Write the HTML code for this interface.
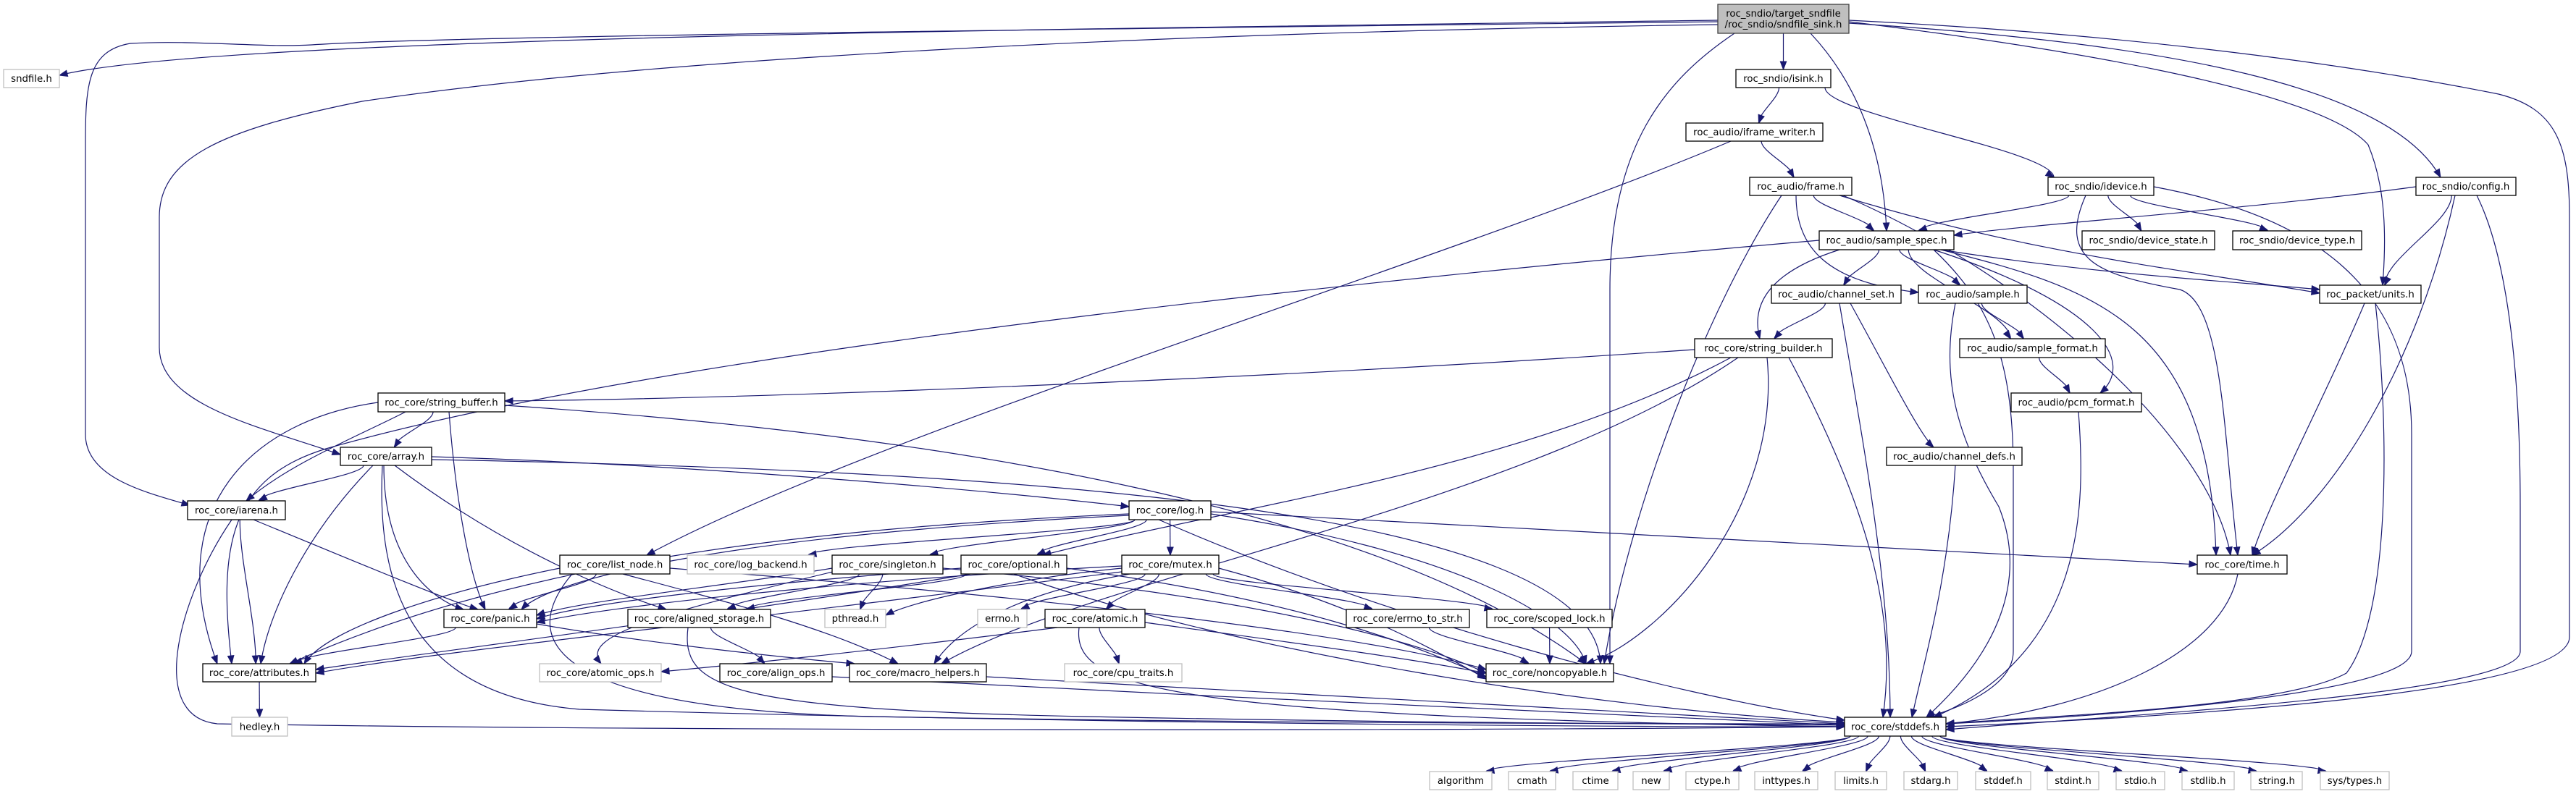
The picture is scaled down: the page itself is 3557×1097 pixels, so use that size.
<!DOCTYPE html>
<html><head><meta charset="utf-8"><style>
html,body{margin:0;padding:0;background:#fff;}
#c{position:relative;width:3557px;height:1097px;overflow:hidden;}
svg{position:absolute;left:0;top:0;}
</style></head><body><div id="c">
<svg id="s" width="3557" height="1097" xmlns="http://www.w3.org/2000/svg" font-family="'DejaVu Sans','Liberation Sans',sans-serif" font-size="13.3"></svg>
</div>
<script>
var N={
main:[2372,6,2553,46,'roc_sndio/target_sndfile|/roc_sndio/sndfile_sink.h',2],
sndfile:[5,96,82,121,'sndfile.h',1],
isink:[2397,96,2528,121,'roc_sndio/isink.h'],
iframe:[2328,170,2517,195,'roc_audio/iframe_writer.h'],
frame:[2416,245,2557,270,'roc_audio/frame.h'],
idevice:[2828,245,2974,270,'roc_sndio/idevice.h'],
config:[3336,245,3474,270,'roc_sndio/config.h'],
sspec:[2512,319,2698,345,'roc_audio/sample_spec.h'],
dstate:[2875,319,3058,345,'roc_sndio/device_state.h'],
dtype:[3083,319,3261,345,'roc_sndio/device_type.h'],
chset:[2446,394,2625,419,'roc_audio/channel_set.h'],
sample:[2649,394,2799,419,'roc_audio/sample.h'],
units:[3203,394,3343,419,'roc_packet/units.h'],
sbuild:[2340,468,2530,494,'roc_core/string_builder.h'],
sfmt:[2706,468,2907,494,'roc_audio/sample_format.h'],
sbuf:[522,543,697,569,'roc_core/string_buffer.h'],
pcm:[2777,543,2957,569,'roc_audio/pcm_format.h'],
array:[470,618,596,643,'roc_core/array.h'],
chdefs:[2605,618,2792,643,'roc_audio/channel_defs.h'],
iarena:[259,692,394,718,'roc_core/iarena.h'],
log:[1559,692,1672,718,'roc_core/log.h'],
lnode:[773,767,925,793,'roc_core/list_node.h'],
logb:[949,767,1124,793,'roc_core/log_backend.h',1],
single:[1149,767,1302,793,'roc_core/singleton.h'],
opt:[1327,767,1473,793,'roc_core/optional.h'],
mutex:[1549,767,1683,793,'roc_core/mutex.h'],
time:[3034,767,3158,793,'roc_core/time.h'],
panic:[613,842,741,867,'roc_core/panic.h'],
alst:[867,842,1064,867,'roc_core/aligned_storage.h'],
pthread:[1139,842,1223,867,'pthread.h',1],
errno:[1350,842,1418,867,'errno.h',1],
atomic:[1443,842,1581,867,'roc_core/atomic.h'],
e2s:[1859,842,2029,867,'roc_core/errno_to_str.h'],
slock:[2053,842,2226,867,'roc_core/scoped_lock.h'],
attr:[280,917,436,942,'roc_core/attributes.h'],
aops:[745,917,913,942,'roc_core/atomic_ops.h',1],
alops:[994,917,1149,942,'roc_core/align_ops.h'],
macro:[1173,917,1362,942,'roc_core/macro_helpers.h'],
cpu:[1470,917,1632,942,'roc_core/cpu_traits.h',1],
nonc:[2052,917,2228,942,'roc_core/noncopyable.h'],
hedley:[320,991,397,1017,'hedley.h',1],
stddefs:[2547,991,2687,1017,'roc_core/stddefs.h']
};
var leaves=[['algorithm',1974,2060],['cmath',2083,2148],['ctime',2172,2234],['new',2255,2305],['ctype.h',2328,2401],['inttypes.h',2423,2510],['limits.h',2534,2605],['stdarg.h',2629,2703],['stddef.h',2728,2804],['stdint.h',2827,2898],['stdio.h',2922,2989],['stdlib.h',3013,3085],['string.h',3108,3179],['sys/types.h',3204,3299]];
leaves.forEach(function(l,i){N['L'+i]=[l[1],1066,l[2],1091,l[0],1];});
var E=[
['main','sndfile','M2372,28 C1500,40 300,50 82,104'],
['main','iarena','M2372,30 C1500,40 600,50 430,62 C360,66 270,55 180,60 C120,70 118,120 118,200 L118,600 C118,660 200,680 262,698'],
['main','array','M2372,34 C1600,45 900,80 500,140 C300,180 220,220 220,300 L220,480 C220,560 360,590 470,628'],
['main','isink'],['main','sspec','M2500,46 C2560,110 2600,200 2605,319'],
['main','nonc','M2395,46 C2300,110 2223,200 2223,400 L2223,917'],
['main','units','M2553,30 C2800,60 3200,120 3270,200 C3295,260 3295,330 3290,394'],
['main','config','M2553,32 C3000,60 3300,120 3370,245'],
['main','stddefs','M2553,28 C3000,50 3300,100 3450,130 C3530,150 3548,200 3548,300 L3548,880 C3548,960 3000,990 2687,1004'],
['isink','iframe'],['isink','idevice'],
['iframe','frame'],['iframe','lnode','M2390,195 C2000,360 1200,600 893,767'],
['frame','sspec'],['frame','sample','M2480,270 C2480,340 2520,390 2649,404'],
['frame','units','M2540,270 C2800,350 3000,370 3203,405'],['frame','time','M2545,270 C2800,380 3050,600 3080,767'],
['frame','nonc','M2460,270 C2360,420 2250,700 2215,917'],
['idevice','sspec'],['idevice','dstate'],['idevice','dtype'],
['idevice','time','M2880,270 C2840,360 2900,380 3010,400 C3070,420 3070,600 3090,767'],
['idevice','stddefs','M2974,258 C3200,300 3330,400 3330,600 L3330,900 C3330,960 2900,990 2687,1000'],
['config','sspec','M3336,258 C3100,290 2800,310 2698,325'],['config','units'],
['config','time','M3390,270 C3340,500 3220,700 3110,767'],
['config','stddefs','M3420,270 C3460,350 3480,500 3480,700 L3480,900 C3480,960 2900,990 2687,1008'],
['sspec','chset'],['sspec','sample'],['sspec','sfmt'],
['sspec','pcm','M2670,345 C2900,420 2950,500 2900,543'],
['sspec','sbuild','M2540,345 C2430,380 2420,430 2430,468'],
['sspec','units','M2680,345 C2900,380 3100,390 3203,400'],
['sspec','time','M2680,345 C2900,400 3050,450 3060,767'],
['sspec','stddefs','M2670,345 C2750,420 2780,500 2780,650 L2780,900 C2780,950 2700,980 2660,991'],
['sspec','attr','M2512,332 C1500,420 800,520 450,620 C320,660 300,750 320,917'],
['chset','sbuild'],['chset','chdefs','M2555,419 C2600,500 2650,600 2670,618'],
['chset','stddefs','M2540,419 C2570,600 2610,800 2610,991'],
['sample','sfmt'],['sample','stddefs','M2700,419 C2680,520 2700,600 2760,700 C2800,800 2760,900 2660,991'],
['sfmt','pcm'],['pcm','stddefs','M2870,569 C2880,700 2880,900 2670,991'],
['chdefs','stddefs','M2700,643 C2690,800 2660,900 2640,991'],
['units','time','M3265,419 C3210,550 3130,700 3110,767'],['units','stddefs','M3280,419 C3300,600 3300,850 3240,930 C3150,980 2800,990 2687,1000'],
['time','stddefs','M3090,793 C3070,900 2900,980 2687,1000'],
['sbuild','sbuf','M2340,483 C1800,520 1100,550 697,554'],
['sbuild','opt','M2390,494 C2100,650 1700,700 1440,767'],
['sbuild','macro','M2400,494 C2100,700 1500,800 1300,917'],
['sbuild','nonc','M2440,494 C2460,700 2300,880 2190,917'],
['sbuild','stddefs','M2470,494 C2580,700 2620,850 2600,991'],
['sbuf','array'],['sbuf','iarena','M560,569 C500,600 400,640 340,692'],
['sbuf','attr','M522,556 C350,580 220,700 300,917'],['sbuf','panic','M620,569 C630,700 650,800 670,842'],
['sbuf','nonc','M697,560 C1300,600 1900,700 2190,917'],
['array','iarena'],['array','attr','M515,643 C420,740 370,850 360,917'],
['array','panic','M530,643 C530,780 600,830 640,842'],['array','log','M596,631 C900,640 1300,670 1559,700'],
['array','alst','M545,643 C700,760 850,820 920,842'],
['array','nonc','M596,635 C1400,650 2200,700 2210,917'],
['array','stddefs','M528,643 C520,800 560,960 800,980 C1500,1000 2300,1005 2547,1004'],
['iarena','attr'],['iarena','panic','M350,718 C500,780 620,830 660,842'],
['iarena','stddefs','M320,718 C250,820 200,990 300,1000 C900,1010 2000,1010 2547,1004'],
['log','logb'],['log','single'],['log','mutex'],['log','time','M1672,707 C2300,740 2900,770 3034,780'],
['log','attr','M1559,710 C1100,730 700,780 400,917'],['log','panic','M1559,712 C1000,740 760,800 720,842'],
['log','nonc','M1672,710 C2000,760 2170,850 2190,917'],
['log','opt'],['log','stddefs','M1600,718 C1900,850 2300,960 2547,995'],
['lnode','panic'],['lnode','macro','M860,793 C1000,830 1150,870 1240,917'],
['lnode','nonc','M925,785 C1500,830 1900,880 2052,925'],
['lnode','stddefs','M790,793 C700,900 800,980 1200,990 C1800,1000 2300,1000 2547,1000'],
['lnode','attr','M773,785 C600,820 450,870 420,917'],
['single','pthread'],['single','alst'],['single','panic','M1149,785 C1000,810 800,830 741,850'],
['single','nonc','M1302,785 C1700,820 1950,880 2052,930'],['single','aops','M1150,790 C900,850 800,880 830,917'],
['opt','alst'],['opt','panic','M1327,785 C1000,810 800,835 741,855'],['opt','attr','M1340,793 C1000,850 600,900 436,925'],
['opt','nonc','M1473,785 C1800,830 1950,890 2052,935'],['opt','stddefs','M1400,793 C1700,900 2200,980 2547,998'],
['mutex','atomic'],['mutex','errno'],['mutex','e2s'],['mutex','slock'],['mutex','pthread','M1549,785 C1400,800 1260,830 1223,850'],
['mutex','panic','M1549,782 C1200,800 850,835 741,860'],['mutex','nonc','M1683,785 C1850,830 1950,880 2052,938'],
['mutex','macro','M1560,793 C1400,820 1320,870 1290,917'],['mutex','attr','M1549,790 C1000,860 600,900 436,930'],
['atomic','cpu'],['atomic','aops','M1460,867 C1200,900 1000,920 913,928'],
['atomic','nonc','M1581,860 C1800,890 1950,910 2052,930'],['atomic','stddefs','M1490,867 C1480,950 1600,990 2547,1004'],
['e2s','nonc'],['slock','nonc'],
['panic','attr'],['panic','macro','M741,862 C900,890 1100,910 1180,917'],
['alst','alops'],['alst','stddefs','M950,867 C940,950 1000,980 1500,990 C2000,1000 2400,1000 2547,1002'],
['alops','stddefs','M1149,935 C1600,960 2300,990 2547,1002'],
['macro','stddefs','M1362,935 C1800,960 2300,985 2547,1000'],
['attr','hedley']
];
for(var i=0;i<14;i++)E.push(['stddefs','L'+i]);
var s=document.getElementById('s'),h='';
function esc(t){return t.replace(/&/g,'&amp;').replace(/</g,'&lt;');}
function arrowAt(x,y,px,py){var dx=x-px,dy=y-py,l=Math.sqrt(dx*dx+dy*dy)||1;dx/=l;dy/=l;var bx=x-dx*11,by=y-dy*11,nx=-dy*4.2,ny=dx*4.2;
return '<polygon points="'+x+','+y+' '+(bx+nx)+','+(by+ny)+' '+(bx-nx)+','+(by-ny)+'" fill="#191970" stroke="#191970"/>';}
E.forEach(function(e){var a=N[e[0]],b=N[e[1]],d,ex,ey,px,py;
 if(e[2]){d=e[2];var nums=d.match(/-?[\d.]+/g).map(Number);var L=nums.length;ex=nums[L-2];ey=nums[L-1];px=nums[L-4];py=nums[L-3];}
 else{var sx=(a[0]+a[2])/2,sy=a[3],tx=(b[0]+b[2])/2,ty=b[1];
  var dxx=tx-sx;sx+=Math.max(-(a[2]-a[0])/2+8,Math.min((a[2]-a[0])/2-8,dxx*0.15));
  tx-=Math.max(-(b[2]-b[0])/2+8,Math.min((b[2]-b[0])/2-8,dxx*0.15));
  if(ty<sy+5){ty=b[1];}
  var my=(sy+ty)/2;d='M'+sx+','+sy+' C'+sx+','+(sy+(ty-sy)*0.3)+' '+tx+','+(ty-(ty-sy)*0.3)+' '+tx+','+ty;ex=tx;ey=ty;px=tx-(tx-sx)*0.3;py=ty-(ty-sy)*0.5;}
 var dx=ex-px,dy=ey-py,l=Math.sqrt(dx*dx+dy*dy)||1;
 h+='<path d="'+d+'" fill="none" stroke="#191970" stroke-width="1.2"/>';
 h+=arrowAt(ex,ey,px,py);
});
for(var k in N){var n=N[k],st=n[5]||0;var fill=st==2?'#bfbfbf':'#fff',str=st==1?'#bfbfbf':(st==2?'#404040':'#000');
 h+='<rect x="'+n[0]+'" y="'+n[1]+'" width="'+(n[2]-n[0])+'" height="'+(n[3]-n[1])+'" fill="'+fill+'" stroke="'+str+'" stroke-width="1.3"/>';
 var lines=n[4].split('|'),cx=(n[0]+n[2])/2,cy=(n[1]+n[3])/2;
 lines.forEach(function(t,j){var y=cy+(j-(lines.length-1)/2)*15+4.6;
  h+='<text x="'+cx+'" y="'+y+'" text-anchor="middle" fill="#000">'+esc(t)+'</text>';});}
s.innerHTML=h;
</script>
</body></html>
